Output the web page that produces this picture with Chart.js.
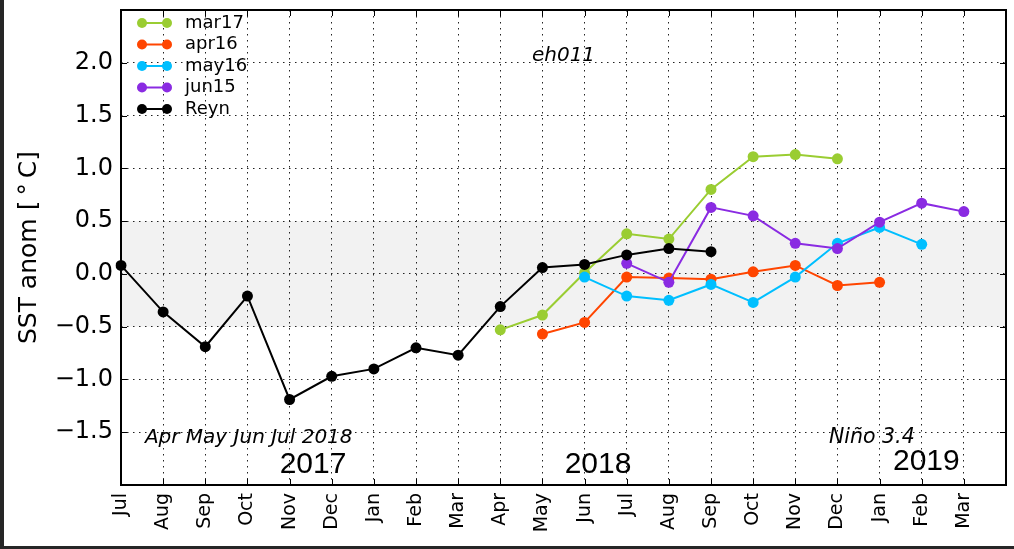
<!DOCTYPE html>
<html>
<head>
<meta charset="utf-8">
<script src="https://cdn.jsdelivr.net/npm/chart.js@4.4.1/dist/chart.umd.min.js"></script>
<style>
html, body { margin: 0; padding: 0; background: #fff; }
#wrap { position: relative; width: 1014px; height: 549px; }
.edge { position: absolute; background: #262626; }
</style>
</head>
<body>
<div id="wrap">
  <canvas id="sstChart" width="1014" height="549"></canvas>
  <div class="edge" style="left:0;top:0;width:4px;height:549px"></div>
  <div class="edge" style="left:0;bottom:0;width:1014px;height:3px"></div>
</div>
<script>
// months Jul 2017 .. Mar 2019, last slot (Apr 2019) left blank
const months = ['Jul', 'Aug', 'Sep', 'Oct', 'Nov', 'Dec', 'Jan', 'Feb', 'Mar', 'Apr', 'May', 'Jun',
                'Jul', 'Aug', 'Sep', 'Oct', 'Nov', 'Dec', 'Jan', 'Feb', 'Mar', ''];

const reyn  = [0.08, -0.36, -0.69, -0.21, -1.19, -0.97, -0.90, -0.70, -0.77, -0.31, 0.06, 0.09,
               0.18, 0.24, 0.21, null, null, null, null, null, null, null];
const mar17 = [null, null, null, null, null, null, null, null, null, -0.53, -0.39, 0.01,
               0.38, 0.33, 0.80, 1.11, 1.13, 1.09, null, null, null, null];
const apr16 = [null, null, null, null, null, null, null, null, null, null, -0.57, -0.46,
               -0.03, -0.04, -0.05, 0.02, 0.08, -0.11, -0.08, null, null, null];
const may16 = [null, null, null, null, null, null, null, null, null, null, null, -0.03,
               -0.21, -0.25, -0.10, -0.27, -0.03, 0.29, 0.44, 0.28, null, null];
const jun15 = [null, null, null, null, null, null, null, null, null, null, null, null,
               0.10, -0.08, 0.63, 0.55, 0.29, 0.24, 0.49, 0.67, 0.59, null];

const yTicks = [-1.5, -1.0, -0.5, 0.0, 0.5, 1.0, 1.5, 2.0];

const seriesNames  = ['mar17', 'apr16', 'may16', 'jun15', 'Reyn'];
const seriesColors = ['#9acd32', '#ff4500', '#00bfff', '#8a2be2', '#000000'];
const seriesData   = [mar17, apr16, may16, jun15, reyn];

// text put on the axes, positions as fraction of the plot box (like transAxes)
const notes = [
    { text: 'eh011', fx: 0.50, fy: 0.903, font: 'italic 20px "DejaVu Sans"', align: 'center' },
    { text: 'Apr May Jun Jul 2018', fx: 0.027, fy: 0.10, font: 'italic 20px "DejaVu Sans"', align: 'left' },
    { text: 'Niño 3.4', fx: 0.80, fy: 0.10, font: 'italic 20.5px "DejaVu Sans"', align: 'left' },
    { text: '2017', fx: 0.217, fy: 0.042, font: '30px "Liberation Sans"', align: 'center' },
    { text: '2018', fx: 0.539, fy: 0.042, font: '30px "Liberation Sans"', align: 'center' },
    { text: '2019', fx: 0.910, fy: 0.048, font: '30px "Liberation Sans"', align: 'center' }
];

function fmtTick(v) {
    const s = Math.abs(v).toFixed(1);
    return v < 0 ? '\u2212' + s : s;
}

const framePlugin = {
    id: 'frame',
    beforeDraw(chart) {
        const { ctx, chartArea: a, scales } = chart;
        // neutral band
        const y1 = scales.y.getPixelForValue(0.5);
        const y2 = scales.y.getPixelForValue(-0.5);
        ctx.save();
        ctx.fillStyle = '#f2f2f2';
        ctx.fillRect(a.left, y1, a.right - a.left, y2 - y1);
        ctx.restore();
    },
    afterDraw(chart) {
        const { ctx, chartArea: a, scales } = chart;
        ctx.save();
        // inward tick marks
        ctx.strokeStyle = '#000';
        ctx.lineWidth = 1;
        ctx.beginPath();
        for (let i = 0; i < months.length; i++) {
            const x = Math.round(scales.x.getPixelForValue(i)) + 0.5;
            ctx.moveTo(x, a.bottom); ctx.lineTo(x, a.bottom - 6);
            ctx.moveTo(x, a.top); ctx.lineTo(x, a.top + 6);
        }
        for (const v of yTicks) {
            const y = Math.round(scales.y.getPixelForValue(v)) + 0.5;
            ctx.moveTo(a.left, y); ctx.lineTo(a.left + 6, y);
            ctx.moveTo(a.right, y); ctx.lineTo(a.right - 6, y);
        }
        ctx.stroke();
        // frame
        ctx.lineWidth = 2;
        ctx.strokeRect(a.left, a.top, a.right - a.left, a.bottom - a.top);

        // legend
        ctx.font = '18px "DejaVu Sans"';
        ctx.textBaseline = 'middle';
        ctx.textAlign = 'left';
        seriesNames.forEach((name, i) => {
            const y = a.top + 13 + i * 21.5;
            const x0 = a.left + 21, x1 = a.left + 46;
            ctx.strokeStyle = seriesColors[i];
            ctx.fillStyle = seriesColors[i];
            ctx.lineWidth = 2;
            ctx.beginPath(); ctx.moveTo(x0, y); ctx.lineTo(x1, y); ctx.stroke();
            [x0, x1].forEach(px => {
                ctx.beginPath(); ctx.arc(px, y, 5, 0, Math.PI * 2); ctx.fill();
            });
            ctx.fillStyle = '#000';
            ctx.fillText(name, a.left + 64, y);
        });

        // annotations
        ctx.fillStyle = '#000';
        notes.forEach(n => {
            ctx.font = n.font;
            ctx.textAlign = n.align;
            ctx.textBaseline = 'middle';
            const x = a.left + n.fx * (a.right - a.left);
            const y = a.bottom - n.fy * (a.bottom - a.top);
            ctx.fillText(n.text, x, y);
        });
        ctx.restore();
    }
};

const datasets = seriesNames.map((name, i) => ({
    label: name,
    data: seriesData[i],
    borderColor: seriesColors[i],
    backgroundColor: seriesColors[i],
    borderWidth: 2,
    pointRadius: 5.5,
    pointHoverRadius: 5.5,
    pointBorderWidth: 0,
    spanGaps: false,
    tension: 0,
    order: seriesNames.length - i
}));

const ctx = document.getElementById('sstChart').getContext('2d');
new Chart(ctx, {
    type: 'line',
    data: { labels: months, datasets: datasets },
    options: {
        responsive: false,
        animation: false,
        layout: { padding: { top: 10, right: 8, left: 0, bottom: 0 } },
        plugins: { legend: { display: false }, tooltip: { enabled: false } },
        scales: {
            x: {
                type: 'category',
                offset: false,
                afterFit: s => { s.height = 64; s.paddingLeft = 0; s.paddingRight = 0; },
                grid: {
                    color: ctx => (ctx.index === 0 || ctx.index === months.length - 1) ? 'rgba(0,0,0,0)' : '#222',
                    lineWidth: 1,
                    drawTicks: false
                },
                border: { display: false, dash: [1.5, 4.5] },
                ticks: {
                    autoSkip: false,
                    maxRotation: 90,
                    minRotation: 90,
                    padding: 8,
                    color: '#000',
                    font: { family: 'DejaVu Sans', size: 19 }
                }
            },
            y: {
                min: -2.0,
                max: 2.5,
                afterFit: s => { s.width = 121; s.paddingTop = 0; s.paddingBottom = 0; },
                afterBuildTicks: s => { s.ticks = yTicks.map(v => ({ value: v })); },
                grid: {
                    color: '#222',
                    lineWidth: 1,
                    drawTicks: false
                },
                border: { display: false, dash: [1.5, 4.5] },
                ticks: {
                    padding: 8,
                    color: '#000',
                    font: { family: 'DejaVu Sans', size: 24 },
                    callback: v => fmtTick(v)
                },
                title: {
                    display: true,
                    text: 'SST anom [\u2009\u00B0\u2009C]',
                    color: '#000',
                    font: { family: 'DejaVu Sans', size: 25 },
                    padding: { top: 14, bottom: 0 }
                }
            }
        }
    },
    plugins: [framePlugin]
});
</script>
</body>
</html>
